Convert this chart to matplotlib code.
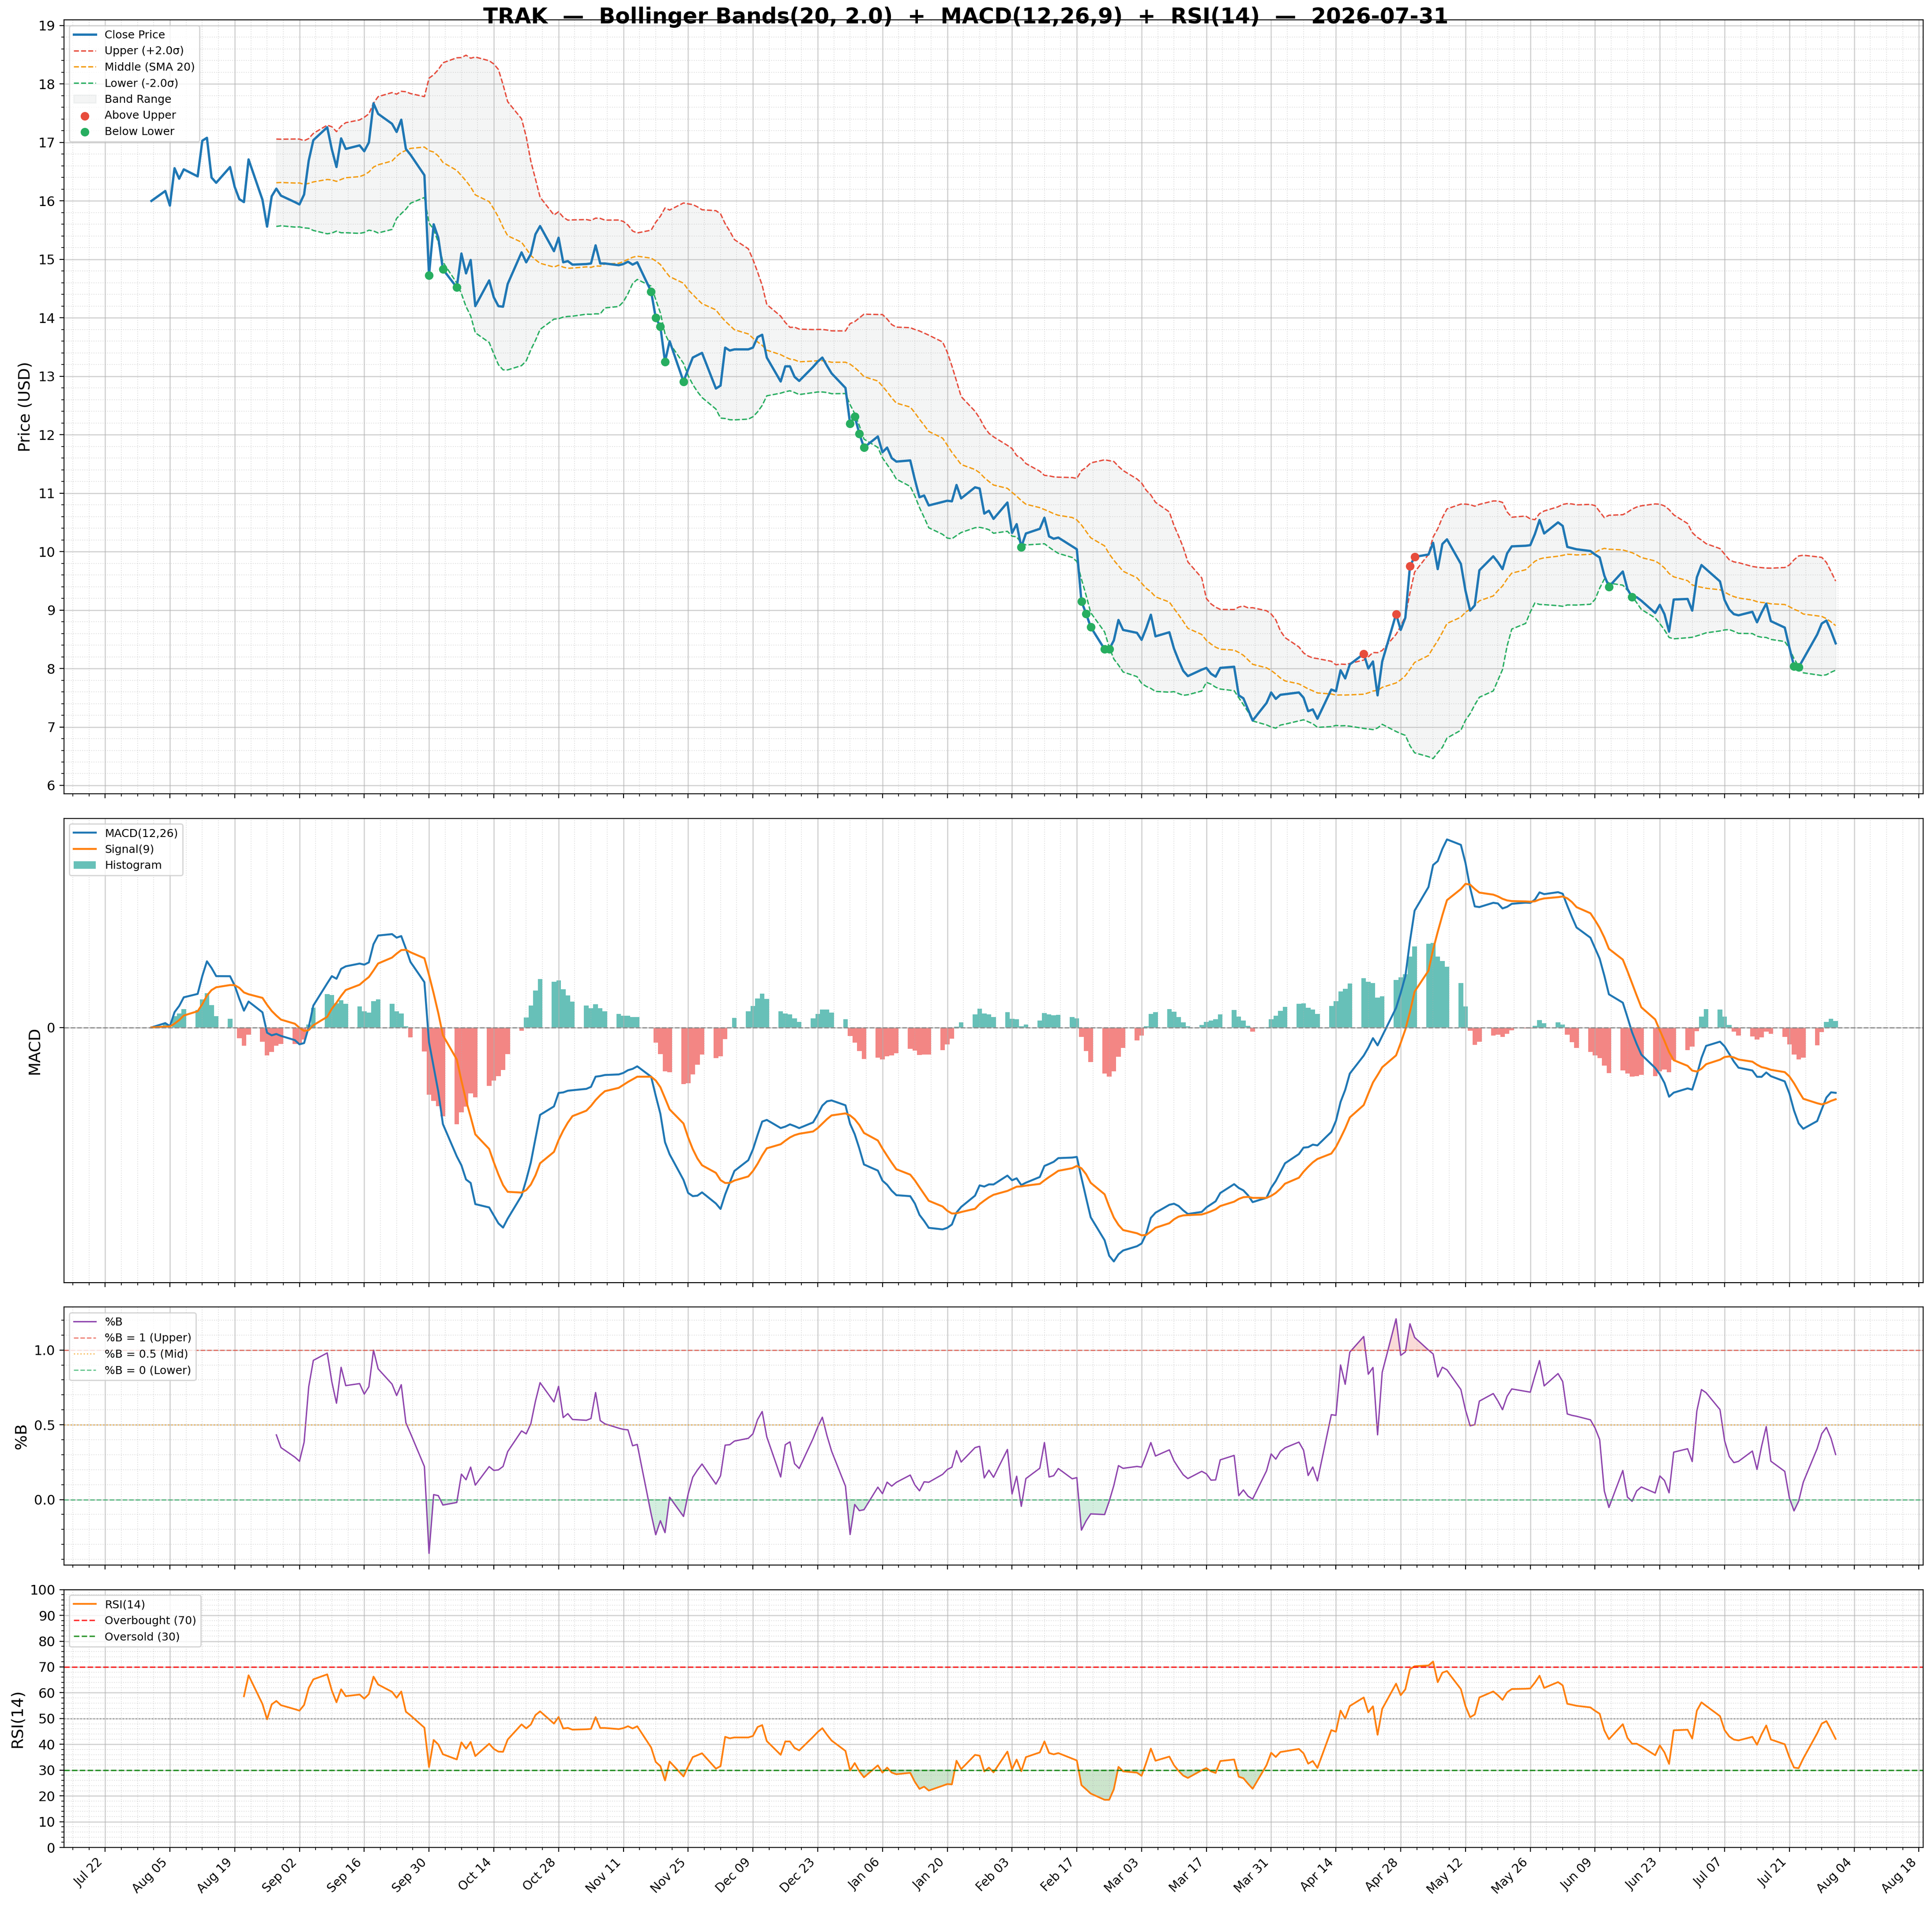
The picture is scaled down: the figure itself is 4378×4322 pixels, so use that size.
import numpy as np
import pandas as pd
import matplotlib
matplotlib.use('Agg')
from matplotlib import pyplot as plt
import matplotlib.dates as mdates
from matplotlib.ticker import MultipleLocator, AutoMinorLocator, FixedLocator

ticker = 'TRAK'
asof = '2026-07-31'

# daily closes, one list per month (business days)
close_aug = [16.00, 16.17, 15.92, 16.56, 16.38, 16.54, 16.42, 17.03, 17.08, 16.40, 16.31,
             16.58, 16.24, 16.03, 15.98, 16.71, 16.02, 15.56, 16.08, 16.21, 16.09]
close_sep = [15.98, 15.94, 16.11, 16.69, 17.04, 17.26, 16.88, 16.58, 17.07, 16.89, 16.95,
             16.85, 17.00, 17.67, 17.49, 17.32, 17.18, 17.39, 16.89, 16.79, 16.44, 14.73]
close_oct = [15.60, 15.37, 14.83, 14.52, 15.10, 14.76, 14.99, 14.20, 14.64, 14.35, 14.20,
             14.19, 14.58, 15.12, 14.95, 15.09, 15.43, 15.57, 15.14, 15.37, 14.95, 14.97, 14.91]
close_nov = [14.92, 14.93, 15.24, 14.93, 14.93, 14.90, 14.92, 14.96, 14.91, 14.95, 14.45,
             14.00, 13.85, 13.25, 13.60, 12.91, 13.12, 13.32, 13.36, 13.40]
close_dec = [12.79, 12.84, 13.49, 13.44, 13.46, 13.46, 13.49, 13.67, 13.71, 13.32, 12.91,
             13.17, 13.17, 12.99, 12.92, 13.16, 13.25, 13.32, 13.18, 13.05, 12.80, 12.19, 12.31]
close_jan = [12.02, 11.78, 11.97, 11.70, 11.78, 11.60, 11.54, 11.56, 11.23, 10.93, 10.96,
             10.79, 10.85, 10.87, 10.86, 11.14, 10.91, 11.10, 11.08, 10.65, 10.70, 10.56]
close_feb = [10.84, 10.32, 10.47, 10.08, 10.31, 10.39, 10.58, 10.26, 10.22, 10.24, 10.09,
             10.04, 9.15, 8.94, 8.71, 8.33, 8.33, 8.48, 8.83, 8.66]
close_mar = [8.61, 8.49, 8.69, 8.92, 8.55, 8.62, 8.34, 8.14, 7.96, 7.87, 7.98,
             8.01, 7.91, 7.86, 8.01, 8.03, 7.54, 7.49, 7.30, 7.11, 7.41, 7.59]
close_apr = [7.48, 7.55, 7.56, 7.59, 7.50, 7.27, 7.30, 7.14, 7.64, 7.61, 7.97,
             7.83, 8.07, 8.25, 8.00, 8.12, 7.54, 8.12, 8.93, 8.66, 8.87, 9.75]
close_may = [9.91, 9.95, 10.15, 9.70, 10.13, 10.21, 9.79, 9.33, 8.99, 9.08, 9.68,
             9.92, 9.82, 9.70, 9.97, 10.09, 10.10, 10.11, 10.30, 10.54, 10.31]
close_jun = [10.50, 10.44, 10.08, 10.06, 10.04, 10.01, 9.95, 9.90, 9.59, 9.40, 9.66,
             9.36, 9.22, 9.22, 9.16, 8.95, 9.09, 8.93, 8.63, 9.18, 9.19, 8.99]
close_jul = [9.56, 9.77, 9.70, 9.49, 9.17, 9.01, 8.93, 8.91, 8.97, 8.79, 8.96,
             9.11, 8.81, 8.70, 8.36, 8.04, 8.02, 8.16, 8.58, 8.77, 8.82, 8.64, 8.43]

dates = pd.bdate_range('2025-08-01', '2026-07-31')
close = pd.Series(close_aug + close_sep + close_oct + close_nov + close_dec + close_jan +
                  close_feb + close_mar + close_apr + close_may + close_jun + close_jul,
                  index=dates)

bb_n, bb_k = 20, 2.0
fast, slow, sig = 12, 26, 9
rsi_n = 14

# indicators
mid = close.rolling(bb_n).mean()
sd = close.rolling(bb_n).std()
upper = mid + bb_k * sd
lower = mid - bb_k * sd
pctb = (close - lower) / (upper - lower)

ema_f = close.ewm(span=fast, adjust=False).mean()
ema_s = close.ewm(span=slow, adjust=False).mean()
macd = ema_f - ema_s
signal = macd.ewm(span=sig, adjust=False).mean()
hist = macd - signal

delta = close.diff()
gain = delta.clip(lower=0)
loss = -delta.clip(upper=0)
avg_g = gain.ewm(alpha=1 / rsi_n, adjust=False, min_periods=rsi_n).mean()
avg_l = loss.ewm(alpha=1 / rsi_n, adjust=False, min_periods=rsi_n).mean()
rsi = 100 - 100 / (1 + avg_g / avg_l)

above = close > upper
below = close < lower

fig = plt.figure(figsize=(21.89, 21.61), dpi=200)
gs = fig.add_gridspec(4, 1, height_ratios=[3, 1.8, 1, 1], hspace=0.056,
                      left=0.0331, right=0.9954, top=0.9895, bottom=0.0312)
ax1 = fig.add_subplot(gs[0])
ax2 = fig.add_subplot(gs[1], sharex=ax1)
ax3 = fig.add_subplot(gs[2], sharex=ax1)
ax4 = fig.add_subplot(gs[3], sharex=ax1)

# price + bands
ax1.plot(dates, close, color='#1f77b4', lw=1.9, label='Close Price', zorder=4)
ax1.plot(dates, upper, color='#e74c3c', ls='--', lw=1.1, label='Upper (+2.0σ)')
ax1.plot(dates, mid, color='#f39c12', ls='--', lw=1.1, label='Middle (SMA 20)')
ax1.plot(dates, lower, color='#27ae60', ls='--', lw=1.1, label='Lower (-2.0σ)')
ax1.fill_between(dates, lower, upper, color='#95a5a6', alpha=0.1, label='Band Range')
ax1.scatter(dates[above], close[above], color='#e74c3c', s=36, zorder=5, label='Above Upper')
ax1.scatter(dates[below], close[below], color='#27ae60', s=36, zorder=5, label='Below Lower')
ax1.set_ylabel('Price (USD)', fontsize=13)
ax1.yaxis.set_major_locator(MultipleLocator(1))
ax1.yaxis.set_minor_locator(AutoMinorLocator(5))
ax1.legend(loc='upper left', fontsize=9)

# macd
hcol = np.where(hist >= 0, '#26a69a', '#ef5350')
ax2.plot(dates, macd, color='#1f77b4', lw=1.6, label='MACD(12,26)')
ax2.plot(dates, signal, color='#ff7f0e', lw=1.6, label='Signal(9)')
ax2.bar(dates, hist, width=1.0, color=hcol, alpha=0.7, label='Histogram')
ax2.axhline(0, color='gray', ls='--', lw=1, alpha=0.8)
ax2.set_ylabel('MACD', fontsize=13)
ax2.set_yticks([0])
ax2.legend(loc='upper left', fontsize=9)

# %B
ax3.plot(dates, pctb, color='#8e44ad', lw=1.1, label='%B')
ax3.axhline(1, color='#e74c3c', ls='--', lw=1, alpha=0.7, label='%B = 1 (Upper)')
ax3.axhline(0.5, color='#f39c12', ls=':', lw=1, alpha=0.7, label='%B = 0.5 (Mid)')
ax3.axhline(0, color='#27ae60', ls='--', lw=1, alpha=0.7, label='%B = 0 (Lower)')
ax3.fill_between(dates, pctb, 0, where=pctb < 0, color='#27ae60', alpha=0.2, interpolate=True)
ax3.fill_between(dates, pctb, 1, where=pctb > 1, color='#e74c3c', alpha=0.2, interpolate=True)
ax3.set_ylabel('%B', fontsize=13)
ax3.yaxis.set_major_locator(MultipleLocator(0.5))
ax3.yaxis.set_minor_locator(AutoMinorLocator(5))
ax3.legend(loc='upper left', fontsize=9)

# rsi
ax4.plot(dates, rsi, color='#ff7f0e', lw=1.4, label='RSI(14)')
ax4.axhline(70, color='red', ls='--', lw=1.2, alpha=0.8, label='Overbought (70)')
ax4.axhline(30, color='green', ls='--', lw=1.2, alpha=0.8, label='Oversold (30)')
ax4.axhline(50, color='gray', ls=':', lw=1, alpha=0.7)
ax4.fill_between(dates, rsi, 30, where=rsi < 30, color='green', alpha=0.2, interpolate=True)
ax4.fill_between(dates, rsi, 70, where=rsi > 70, color='red', alpha=0.2, interpolate=True)
ax4.set_ylim(0, 100)
ax4.yaxis.set_major_locator(MultipleLocator(10))
ax4.yaxis.set_minor_locator(AutoMinorLocator(5))
ax4.set_ylabel('RSI(14)', fontsize=13)
ax4.legend(loc='upper left', fontsize=9)

# shared x axis
xt = pd.date_range('2025-07-22', '2026-08-18', freq='14D')
ax1.set_xlim(dates[0] - pd.Timedelta(days=18.9), dates[-1] + pd.Timedelta(days=18.9))
for ax in (ax1, ax2, ax3, ax4):
    ax.xaxis.set_major_locator(FixedLocator(mdates.date2num(xt)))
    ax.xaxis.set_minor_locator(AutoMinorLocator(4))
    ax.grid(True, which='major', color='#b0b0b0', alpha=0.6, lw=0.9)
    ax.grid(True, which='minor', color='#b0b0b0', alpha=0.4, ls=':', lw=0.7)
    ax.tick_params(axis='y', labelsize=11)
    if ax is not ax4:
        plt.setp(ax.get_xticklabels(), visible=False)
ax4.xaxis.set_major_formatter(mdates.DateFormatter('%b %d'))
plt.setp(ax4.get_xticklabels(), rotation=45, ha='right', fontsize=10)

fig.suptitle(f'{ticker}  —  Bollinger Bands(20, 2.0)  +  MACD(12,26,9)  +  RSI(14)  —  {asof}',
             fontsize=17.5, fontweight='bold', y=0.9965, va='top')

fig.savefig('out.png', dpi=200)
